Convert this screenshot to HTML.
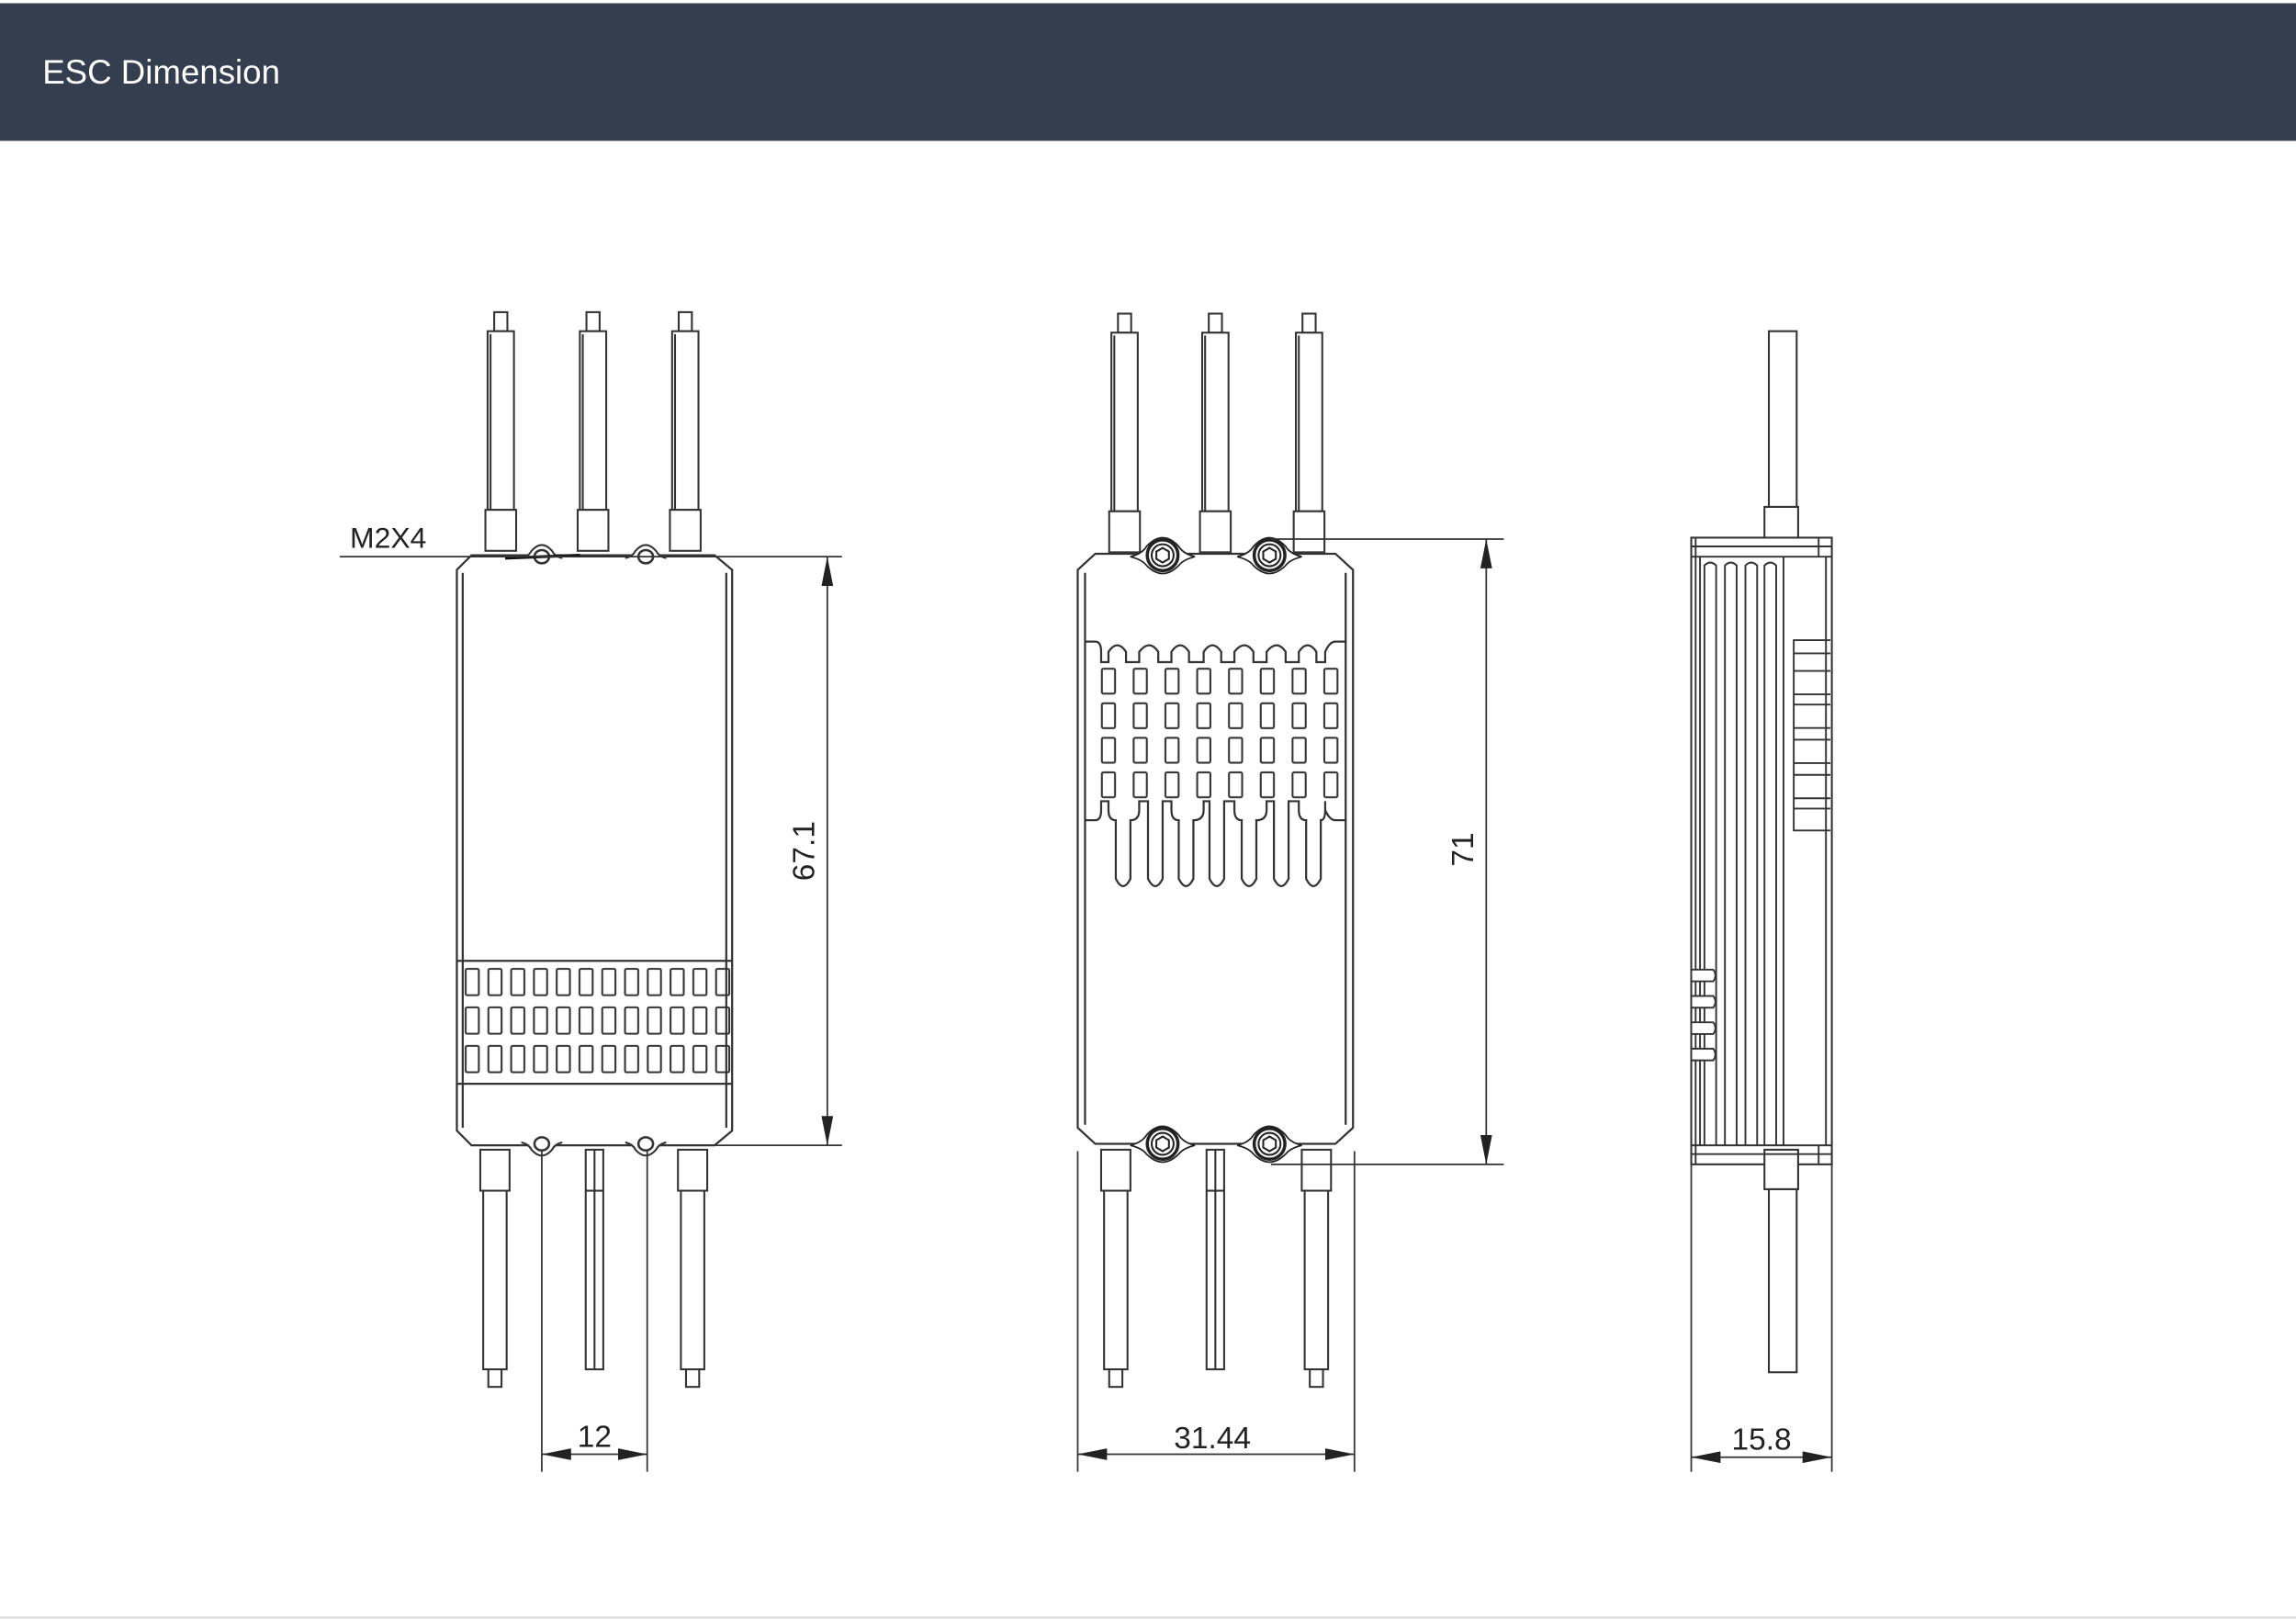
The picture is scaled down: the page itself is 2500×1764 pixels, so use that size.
<!DOCTYPE html>
<html><head><meta charset="utf-8"><style>
html,body{margin:0;padding:0;background:#fff;width:2500px;height:1764px;overflow:hidden}
svg{display:block}
</style></head><body>
<svg width="2500" height="1764" viewBox="0 0 1568 1106" xmlns="http://www.w3.org/2000/svg">
<defs>
<pattern id="gl" x="317" y="660" width="15.55" height="26.3" patternUnits="userSpaceOnUse">
<rect x="1" y="1.5" width="9" height="18" rx="1" fill="none" stroke="#333" stroke-width="1.3"/>
</pattern>
<pattern id="gm" x="751" y="455" width="21.7" height="23.6" patternUnits="userSpaceOnUse">
<rect x="1.5" y="1.5" width="9" height="17" rx="1" fill="none" stroke="#333" stroke-width="1.3"/>
</pattern>
<g id="tp" fill="#fff" stroke="#333" stroke-width="1.3">
<rect x="-4.5" y="0" width="9" height="13"/>
<rect x="-9" y="13" width="18" height="122"/>
<rect x="-10.5" y="135" width="21" height="28"/>
<line x1="-7" y1="15" x2="-7" y2="135"/>
</g>
<g id="bp" fill="#fff" stroke="#333" stroke-width="1.3">
<rect x="-10" y="0" width="20" height="28"/>
<rect x="-8" y="28" width="16" height="122"/>
<rect x="-4.5" y="150" width="9" height="12"/>
</g>
<g id="sig" fill="#fff" stroke="#333" stroke-width="1.3">
<rect x="-6" y="0" width="12" height="150"/>
<line x1="0" y1="0" x2="0" y2="150"/>
<line x1="-6" y1="28" x2="6" y2="28"/>
</g>
<g id="nut" stroke="#222" fill="#fff">
<path d="M-22 1 Q-14 -1 -11 -6 Q0 -18 11 -6 Q14 -1 22 1 Q14 3 11 7 Q0 18 -11 7 Q-14 3 -22 1Z" stroke-width="1.1"/>
<circle r="10.5" stroke-width="2.2"/>
<circle r="7.5" stroke-width="1.3"/>
<polygon points="0,-5 4.3,-2.5 4.3,2.5 0,5 -4.3,2.5 -4.3,-2.5" stroke-width="1.3"/>
</g>
<g id="hole" stroke="#333" fill="#fff" stroke-width="1.3">
<path d="M-14 1 Q-9 0 -7 -4 Q0 -12 7 -4 Q9 0 14 1"/>
<ellipse rx="5" ry="4.5" stroke-width="1.6"/>
</g>
<marker id="ar" viewBox="0 0 20 8" refX="20" refY="4" markerWidth="20" markerHeight="8" orient="auto-start-reverse" markerUnits="userSpaceOnUse">
<path d="M0 0 L20 4 L0 8 Z" fill="#222"/>
</marker>
</defs>

<rect x="0" y="2" width="1568" height="94" fill="#343e4f"/>
<text x="29" y="57" font-family="'Liberation Sans',sans-serif" font-size="23" fill="#fff">ESC Dimension</text>
<line x1="0" y1="1104.5" x2="1568" y2="1104.5" stroke="#ddd" stroke-width="1.5"/>

<!-- LEFT VIEW -->
<use href="#tp" x="342" y="213"/>
<use href="#tp" x="405" y="213"/>
<use href="#tp" x="468" y="213"/>
<g fill="none" stroke="#333" stroke-width="1.4">
<path d="M322 379 L488 379 L500 389 L500 772 L488 782 L322 782 L312 772 L312 389 Z" fill="#fff"/>
<line x1="316" y1="391" x2="316" y2="770"/>
<line x1="496" y1="391" x2="496" y2="770"/>
<line x1="312" y1="656" x2="500" y2="656"/>
<line x1="312" y1="740" x2="500" y2="740"/>
</g>
<rect x="313" y="657" width="186" height="82" fill="url(#gl)"/>
<use href="#hole" x="370" y="380"/>
<use href="#hole" x="441" y="380"/>
<use href="#hole" x="370" y="781" transform="rotate(180 370 781)"/>
<use href="#hole" x="441" y="781" transform="rotate(180 441 781)"/>
<line x1="345" y1="381" x2="396" y2="379" stroke="#111" stroke-width="2"/>
<use href="#bp" x="338" y="785"/>
<use href="#sig" x="406" y="785"/>
<use href="#bp" x="473" y="785"/>
<text x="239" y="374" font-family="'Liberation Sans',sans-serif" font-size="20" fill="#222">M2X4</text>
<g stroke="#333" stroke-width="1.1" fill="none">
<line x1="232" y1="380" x2="575" y2="380"/>
<line x1="462" y1="782" x2="575" y2="782"/>
<line x1="565" y1="380" x2="565" y2="782" marker-start="url(#ar)" marker-end="url(#ar)"/>
<line x1="370" y1="786" x2="370" y2="1005"/>
<line x1="442" y1="786" x2="442" y2="1005"/>
<line x1="370" y1="993" x2="442" y2="993" marker-start="url(#ar)" marker-end="url(#ar)"/>
</g>
<text x="0" y="0" transform="translate(556 581) rotate(-90)" text-anchor="middle" font-family="'Liberation Sans',sans-serif" font-size="21" fill="#222">67.1</text>
<text x="406" y="988" text-anchor="middle" font-family="'Liberation Sans',sans-serif" font-size="21" fill="#222">12</text>

<!-- MIDDLE VIEW -->
<use href="#tp" x="768" y="214"/>
<use href="#tp" x="830" y="214"/>
<use href="#tp" x="894" y="214"/>
<g fill="none" stroke="#333" stroke-width="1.4">
<path d="M748 378 L912 378 L924 389 L924 770 L912 781 L748 781 L736 770 L736 389 Z" fill="#fff"/>
<line x1="741" y1="391" x2="741" y2="768"/>
<line x1="919" y1="391" x2="919" y2="768"/>
<path d="M741 438 L748 438 Q752 438 752 445 L752 452 L757 452 L757 445 Q763 436 769 445 L769 452 L778 452 L778 445 Q785 436 791 445 L791 452 L800 452 L800 445 Q806 436 812 445 L812 452 L822 452 L822 445 Q828 436 834 445 L834 452 L843 452 L843 445 Q850 436 856 445 L856 452 L865 452 L865 445 Q872 436 878 445 L878 452 L887 452 L887 445 Q893 436 899 445 L899 452 L905 452 L905 445 Q908 438 912 438 L919 438"/>
<path d="M741 560 L748 560 Q752 560 752 553 L752 547 L757 547 L757 553 Q757 560 762 560 L762 600 Q767 610 772 600 L772 560 Q778 560 778 553 L778 547 L784 547 L784 600 Q789 610 794 600 L794 547 L800 547 L800 553 Q800 560 805 560 L805 600 Q810 610 815 600 L815 560 Q822 560 822 553 L822 547 L826 547 L826 600 Q831 610 836 600 L836 547 L843 547 L843 553 Q843 560 848 560 L848 600 Q853 610 858 600 L858 560 Q865 560 865 553 L865 547 L870 547 L870 600 Q875 610 880 600 L880 547 L887 547 L887 553 Q887 560 892 560 L892 600 Q897 610 902 600 L902 560 Q905 560 905 553 L905 547 L905 553 Q908 560 912 560 L919 560"/>
</g>
<rect x="751" y="455" width="165" height="91" fill="url(#gm)"/>
<use href="#nut" x="794" y="379"/>
<use href="#nut" x="867" y="379"/>
<use href="#nut" x="794" y="781"/>
<use href="#nut" x="867" y="781"/>
<use href="#bp" x="762" y="785"/>
<use href="#sig" x="830" y="785"/>
<use href="#bp" x="899" y="785"/>
<g stroke="#333" stroke-width="1.1" fill="none">
<line x1="868" y1="368" x2="1027" y2="368"/>
<line x1="868" y1="795" x2="1027" y2="795"/>
<line x1="1015" y1="368" x2="1015" y2="795" marker-start="url(#ar)" marker-end="url(#ar)"/>
<line x1="736" y1="786" x2="736" y2="1005"/>
<line x1="925" y1="786" x2="925" y2="1005"/>
<line x1="736" y1="993" x2="925" y2="993" marker-start="url(#ar)" marker-end="url(#ar)"/>
</g>
<text x="0" y="0" transform="translate(1006 580) rotate(-90)" text-anchor="middle" font-family="'Liberation Sans',sans-serif" font-size="21" fill="#222">71</text>
<text x="828" y="989" text-anchor="middle" font-family="'Liberation Sans',sans-serif" font-size="21" fill="#222">31.44</text>

<!-- RIGHT VIEW -->
<g fill="#fff" stroke="#333" stroke-width="1.3">
<rect x="1208" y="226" width="19" height="120"/>
<rect x="1205" y="346" width="23" height="27"/>
<rect x="1155" y="367" width="96" height="428"/>
<rect x="1205" y="785" width="23" height="27"/>
<rect x="1208" y="812" width="19" height="125"/>
</g>
<g fill="none" stroke="#333" stroke-width="1.2">
<line x1="1155" y1="373" x2="1251" y2="373"/>
<line x1="1155" y1="380" x2="1251" y2="380"/>
<line x1="1155" y1="782" x2="1251" y2="782"/>
<line x1="1155" y1="788" x2="1251" y2="788"/>
<line x1="1158" y1="367" x2="1158" y2="795"/>
<line x1="1161" y1="380" x2="1161" y2="782"/>
<path d="M1164 782 L1164 386 Q1168 382 1172 386 L1172 782"/>
<path d="M1178 782 L1178 386 Q1182 382 1186 386 L1186 782"/>
<path d="M1192 782 L1192 386 Q1196 382 1200 386 L1200 782"/>
<path d="M1205 782 L1205 386 Q1209 382 1213 386 L1213 782"/>
<line x1="1218" y1="380" x2="1218" y2="782"/>
<line x1="1247" y1="380" x2="1247" y2="782"/>
<line x1="1242" y1="367" x2="1242" y2="380"/>
<line x1="1242" y1="782" x2="1242" y2="795"/>
<path d="M1250 437 L1225 437 L1225 567 L1250 567"/>
<path d="M1225 446 L1250 446 M1225 458 L1250 458 M1225 474 L1250 474 M1225 481 L1250 481 M1225 497 L1250 497 M1225 505 L1250 505 M1225 521 L1250 521 M1225 529 L1250 529 M1225 545 L1250 545 M1225 552 L1250 552"/>
</g>
<g fill="#fff" stroke="#333" stroke-width="1.2">
<path d="M1155 662 L1170 662 Q1173 666 1170 670 L1155 670 Z"/>
<path d="M1155 680 L1170 680 Q1173 684 1170 688 L1155 688 Z"/>
<path d="M1155 698 L1170 698 Q1173 702 1170 706 L1155 706 Z"/>
<path d="M1155 716 L1170 716 Q1173 720 1170 724 L1155 724 Z"/>
</g>
<g stroke="#333" stroke-width="1.1" fill="none">
<line x1="1155" y1="795" x2="1155" y2="1005"/>
<line x1="1251" y1="795" x2="1251" y2="1005"/>
<line x1="1155" y1="995" x2="1251" y2="995" marker-start="url(#ar)" marker-end="url(#ar)"/>
</g>
<text x="1203" y="990" text-anchor="middle" font-family="'Liberation Sans',sans-serif" font-size="21" fill="#222">15.8</text>
</svg>
</body></html>
